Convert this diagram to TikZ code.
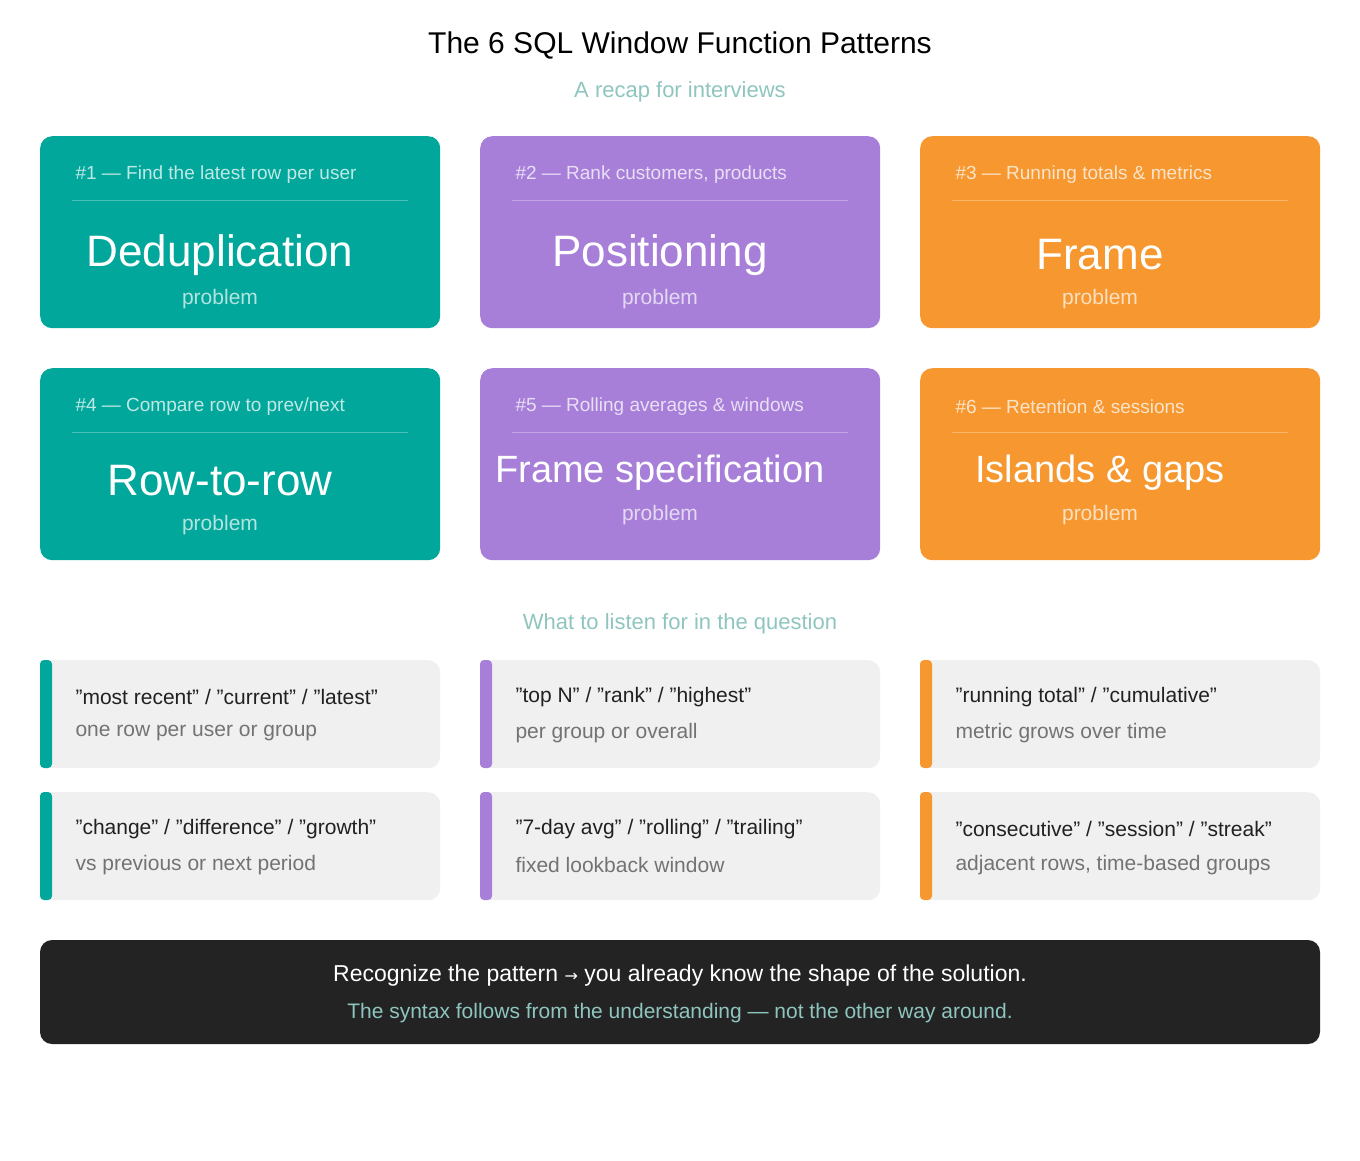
\documentclass[tikz,border=0pt]{standalone}
\usepackage{fontspec}
\setmainfont{Liberation Sans}
\newfontfamily\dejavu{DejaVu Sans}
\definecolor{teal}{HTML}{00A79A}
\definecolor{purp}{HTML}{A77FD9}
\definecolor{oran}{HTML}{F7972F}
\definecolor{subc}{HTML}{8FC5BF}
\definecolor{cuebg}{HTML}{F0F0F0}
\definecolor{dark}{HTML}{232323}
\newcommand{\fs}[1]{\fontsize{#1}{#1}\selectfont}
\begin{document}
\begin{tikzpicture}[x=1pt,y=-1pt,
  card/.style={draw=none,rounded corners=12pt,minimum width=400pt,minimum height=192pt,inner sep=0pt},
  hdr/.style={anchor=west,text=white,opacity=0.75,font=\fs{19}},
  big/.style={text=white,font=\fs{44}},
  prob/.style={text=white,opacity=0.7,font=\fs{21}},
  cue/.style={fill=cuebg,draw=none,rounded corners=12pt,minimum width=400pt,minimum height=108pt,inner sep=0pt},
  cuea/.style={anchor=west,text=black!87,font=\fs{21}},
  cueb/.style={anchor=west,text=black!55,font=\fs{21}}]
\useasboundingbox (0,0) rectangle (1360,1160);
\node (title) at (680,45) {\fs{30}The 6 SQL Window Function Patterns};
\node[text=subc] (sub) at (680,92) {\fs{22}A recap for interviews};
% cards
\foreach \i/\x/\y/\c/\h/\t/\bs/\ty/\py in {
 1/40/136/teal/{\#1 — Find the latest row per user}/Deduplication/44/255/299,
 2/480/136/purp/{\#2 — Rank customers, products}/Positioning/44/255/299,
 3/920/136/oran/{\#3 — Running totals \& metrics}/Frame/44/255/299,
 4/40/368/teal/{\#4 — Compare row to prev/next}/Row-to-row/44/481/525,
 5/480/368/purp/{\#5 — Rolling averages \& windows}/Frame specification/38/473/515,
 6/920/368/oran/{\#6 — Retention \& sessions}/Islands \& gaps/38/473/515}{
  \node[card,fill=\c,anchor=north west] (card\i) at (\x,\y) {};
  \node[hdr] (h\i) at (\x+32,\y+39) {\h};
  \draw[white,opacity=0.3,line width=1pt] (\x+32,\y+64) -- (\x+368,\y+64);
  \node[big,font=\fs{\bs}] (t\i) at (\x+180,\ty) {\t};
  \node[prob] (p\i) at (\x+180,\py) {problem};
}
\node[text=subc] (listen) at (680,624) {\fs{22}What to listen for in the question};
\foreach \i/\x/\y/\c/\a/\b in {
 1/40/660/teal/{"most recent" / "current" / "latest"}/{one row per user or group},
 2/480/660/purp/{"top N" / "rank" / "highest"}/{per group or overall},
 3/920/660/oran/{"running total" / "cumulative"}/{metric grows over time},
 4/40/792/teal/{"change" / "difference" / "growth"}/{vs previous or next period},
 5/480/792/purp/{"7-day avg" / "rolling" / "trailing"}/{fixed lookback window},
 6/920/792/oran/{"consecutive" / "session" / "streak"}/{adjacent rows, time-based groups}}{
  \node[cue,anchor=north west] (cue\i) at (\x,\y) {};
  \fill[\c,rounded corners=4pt] (\x,\y) rectangle (\x+12,\y+108);
  \node[cuea] (ca\i) at (\x+32,\y+37) {\a};
  \node[cueb] (cb\i) at (\x+32,\y+73) {\b};
}
\fill[dark,rounded corners=12pt] (40,940) rectangle (1320,1044);
\node[text=white] (f1) at (680,976) {\fs{23}Recognize the pattern {\dejavu\fs{16}→} you already know the shape of the solution.};
\node[text=subc] (f2) at (680,1013) {\fs{21}The syntax follows from the understanding — not the other way around.};
\end{tikzpicture}
\end{document}
